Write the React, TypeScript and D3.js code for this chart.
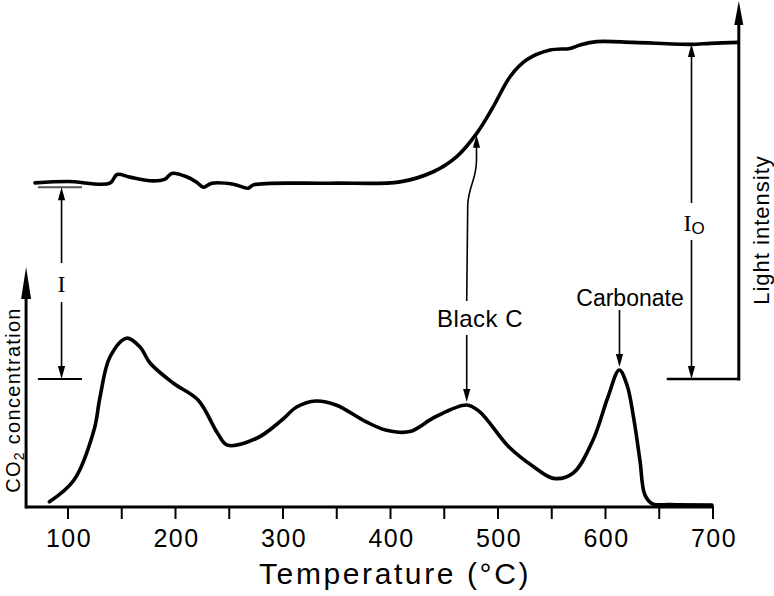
import React from "react";
import * as d3 from "d3";

// ---- data (temperature in °C, arbitrary intensity units) ----
const majorTicks = [100, 200, 300, 400, 500, 600, 700];
const minorTicks = [150, 250, 350, 450, 550, 650];

const co2Temp = [82.7, 105.6, 124.2, 129.8, 139, 154.6, 167, 176.3, 197.7, 221, 239, 248, 276, 299, 312.7, 330.7, 349.3, 377, 395.4, 418, 441.4, 470.9, 482.8, 510.2, 533.5, 551.7, 570, 588.4, 602.3, 612.8, 620, 626.5, 632, 636.7, 643.7, 660, 699];
const co2Value = [1.6, 12.5, 37.5, 54, 74, 83.4, 79, 71, 61, 52.5, 36, 30, 33.5, 42.5, 49, 52, 50, 41.7, 37.5, 36.7, 44, 50, 46.7, 29, 19, 13.3, 16, 32.5, 54, 67.5, 60, 42.5, 22.5, 5, 0.6, 0.2, 0];

const lightTemp = [69.3, 100, 139, 145.6, 157.7, 179, 190.2, 196.5, 210.4, 219.7, 225.9, 233.7, 253.8, 267.7, 272.4, 343.7, 408.8, 439.8, 461.6, 480.2, 495.6, 511.2, 526.7, 548.4, 567, 576.3, 591.8, 625.9, 679, 697.7, 723.5];
const lightValue = [58.2, 58.6, 58.1, 60.7, 59.9, 58.8, 59.3, 61, 60, 58.4, 56.9, 58.1, 57.8, 56.6, 57.6, 58.1, 58.5, 61.5, 66, 72.9, 80.8, 89.7, 94.7, 97.6, 98.1, 99.1, 100.1, 99.9, 99.3, 99.6, 99.9];

// annotation anchors (data units)
const iArrowTemp = 94;
const i0ArrowTemp = 680;
const blackCTemp = 470.9;
const blackCUpperTemp = 480;
const carbonateTemp = 613;

const W = 774;
const H = 596;

const x = d3.scaleLinear().domain([100, 700]).range([68, 713]);
const yCO2 = d3.scaleLinear().domain([0, 100]).range([505, 305]);
const yLight = d3.scaleLinear().domain([0, 100]).range([379, 42]);

const FONT = "'Liberation Sans', Arial, sans-serif";

function arrowHead(tx: number, ty: number, dir: "up" | "down", len = 13, hw = 3.6) {
  const s = dir === "up" ? 1 : -1;
  return `M${tx},${ty} L${tx - hw},${ty + s * len} L${tx + hw},${ty + s * len} Z`;
}

export default function App() {
  const co2Line = d3
    .line<number>()
    .x((_, i) => x(co2Temp[i]))
    .y((d) => yCO2(d))
    .curve(d3.curveCatmullRom.alpha(0.5))(co2Value) as string;

  const lightLine = d3
    .line<number>()
    .x((_, i) => x(lightTemp[i]))
    .y((d) => yLight(d))
    .curve(d3.curveCatmullRom.alpha(0.5))(lightValue) as string;

  const axisY = yCO2(-1);
  const axisLeftX = x(61);
  const rightAxisX = x(724);

  // I arrow (left)
  const iX = x(iArrowTemp);
  const iTop = yLight(57.5);
  const iBot = yLight(0);
  // I0 arrow (right)
  const i0X = x(i0ArrowTemp);
  const i0Top = yLight(99.4);
  const i0Bot = yLight(0);

  // Black C
  const bcX = x(blackCTemp);
  const bcPeakY = yCO2(50);
  const bcUpX = x(blackCUpperTemp);
  const bcUpY = yLight(72.5);

  // Carbonate
  const cbX = x(carbonateTemp);
  const cbPeakY = yCO2(67.5);

  return (
    <svg
      width={W}
      height={H}
      viewBox={`0 0 ${W} ${H}`}
      style={{ position: "absolute", left: 0, top: 0, background: "#fff", display: "block" }}
    >
      <rect x={0} y={0} width={W} height={H} fill="#fff" />

      {/* bottom temperature axis */}
      <line x1={axisLeftX} y1={axisY} x2={x(700) + 1} y2={axisY} stroke="#000" strokeWidth={3} />
      {majorTicks.concat(minorTicks).map((t) => (
        <line key={t} x1={x(t)} x2={x(t)} y1={axisY} y2={axisY + 12} stroke="#000" strokeWidth={2} />
      ))}
      {majorTicks.map((t) => (
        <text
          key={t}
          x={x(t) + 1}
          y={547}
          textAnchor="middle"
          fontFamily={FONT}
          fontSize={25}
          letterSpacing={1.5}
          fill="#000"
        >
          {t}
        </text>
      ))}
      <text x={395} y={584} textAnchor="middle" fontFamily={FONT} fontSize={30} letterSpacing={2.6} fill="#000">
        Temperature (°C)
      </text>

      {/* left CO2 axis */}
      <line x1={axisLeftX} y1={axisY + 1.5} x2={axisLeftX} y2={290} stroke="#000" strokeWidth={3} />
      <path d={arrowHead(axisLeftX, 267, "up", 32, 5)} fill="#000" />
      <text
        transform={`translate(20, 400) rotate(-90)`}
        textAnchor="middle"
        fontFamily={FONT}
        fontSize={20}
        letterSpacing={1.3}
        fill="#000"
      >
        CO
        <tspan fontSize={14} dy={4}>2</tspan>
        <tspan dy={-4}> concentration</tspan>
      </text>

      {/* right light intensity axis */}
      <line x1={rightAxisX} y1={yLight(0) + 1.5} x2={rightAxisX} y2={22} stroke="#000" strokeWidth={3} />
      <path d={arrowHead(rightAxisX, 1, "up", 24, 4.5)} fill="#000" />
      <line x1={x(657)} y1={yLight(0)} x2={rightAxisX} y2={yLight(0)} stroke="#000" strokeWidth={2.5} />
      <text
        transform={`translate(769, 230) rotate(-90)`}
        textAnchor="middle"
        fontFamily={FONT}
        fontSize={22}
        letterSpacing={1}
        fill="#000"
      >
        Light intensity
      </text>

      {/* curves */}
      <path d={lightLine} fill="none" stroke="#000" strokeWidth={3.6} strokeLinejoin="round" strokeLinecap="round" />
      <path d={co2Line} fill="none" stroke="#000" strokeWidth={3.6} strokeLinejoin="round" strokeLinecap="round" />

      {/* I measurement (left) */}
      <line x1={x(72)} y1={iTop + 2} x2={x(113)} y2={iTop + 2} stroke="#555" strokeWidth={1.8} />
      <line x1={x(72)} y1={iBot} x2={x(113)} y2={iBot} stroke="#000" strokeWidth={2} />
      <line x1={iX} y1={iTop + 12} x2={iX} y2={263} stroke="#000" strokeWidth={1.6} />
      <line x1={iX} y1={302} x2={iX} y2={iBot - 12} stroke="#000" strokeWidth={1.6} />
      <path d={arrowHead(iX, iTop + 2, "up")} fill="#000" />
      <path d={arrowHead(iX, iBot, "down")} fill="#000" />
      <text x={iX} y={292} textAnchor="middle" fontFamily="'Liberation Serif', serif" fontSize={24} fill="#000">
        I
      </text>

      {/* I0 measurement (right) */}
      <line x1={i0X} y1={i0Top + 12} x2={i0X} y2={203} stroke="#000" strokeWidth={1.6} />
      <line x1={i0X} y1={240} x2={i0X} y2={i0Bot - 12} stroke="#000" strokeWidth={1.6} />
      <path d={arrowHead(i0X, i0Top, "up")} fill="#000" />
      <path d={arrowHead(i0X, i0Bot, "down")} fill="#000" />
      <text x={i0X - 8} y={231} fontFamily="'Liberation Serif', serif" fontSize={24} fill="#000">
        I<tspan fontFamily={FONT} fontSize={17} dy={3}>O</tspan>
      </text>

      {/* Black C annotation */}
      <text x={480} y={327} textAnchor="middle" fontFamily={FONT} fontSize={24} letterSpacing={0.5} fill="#000">
        Black C
      </text>
      <line x1={bcX} y1={335} x2={bcX} y2={bcPeakY - 14} stroke="#000" strokeWidth={1.6} />
      <path d={arrowHead(bcX, bcPeakY - 3, "down")} fill="#000" />
      <path
        d={`M${bcX},301 L${bcX + 1},205 C${bcX + 2},185 ${bcUpX},180 ${bcUpX},160 L${bcUpX},${bcUpY + 10}`}
        fill="none"
        stroke="#000"
        strokeWidth={1.6}
      />
      <path d={arrowHead(bcUpX, bcUpY, "up")} fill="#000" />

      {/* Carbonate annotation */}
      <text x={630} y={306} textAnchor="middle" fontFamily={FONT} fontSize={23} fill="#000">
        Carbonate
      </text>
      <line x1={cbX} y1={310} x2={cbX} y2={cbPeakY - 14} stroke="#000" strokeWidth={1.6} />
      <path d={arrowHead(cbX, cbPeakY - 3, "down")} fill="#000" />
    </svg>
  );
}
